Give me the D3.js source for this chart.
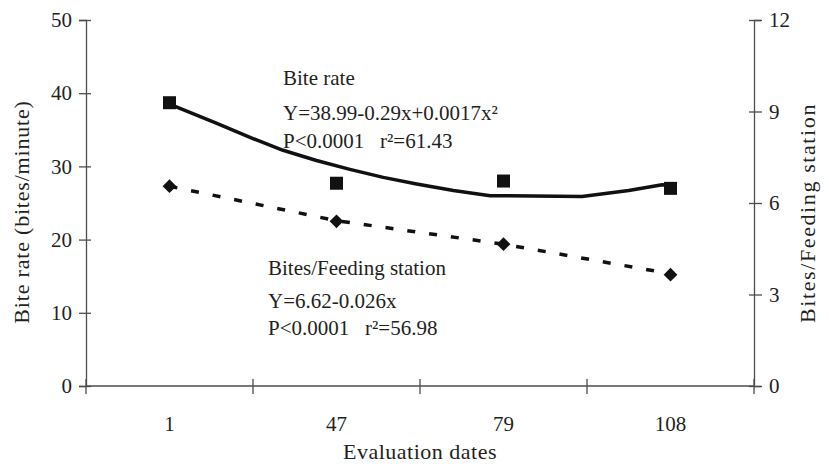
<!DOCTYPE html>
<html>
<head>
<meta charset="utf-8">
<script src="https://cdn.jsdelivr.net/npm/d3@7"></script>
<style>
  body { margin: 0; background: #fff; }
  text { font-family: "Liberation Serif", "DejaVu Serif", serif; fill: #231f20; }
</style>
</head>
<body>
<div id="chart"></div>
<script>
// categories (evaluation dates)
var dates = ["1", "47", "79", "108"];
// observed bite rate (bites/minute), left axis
var biteRate = [38.7, 27.7, 28.0, 27.0];
// observed bites per feeding station, right axis
var bitesStation = [6.55, 5.4, 4.65, 3.65];
// fitted bite rate curve: position (category index) and value
var biteFitPos = [0, 0.28, 0.5, 0.68, 0.88, 1.08, 1.28, 1.48, 1.7, 1.92, 2.47, 2.75, 2.95, 3];
var biteFitVal = [38.5, 35.9, 33.8, 32.2, 30.8, 29.6, 28.5, 27.6, 26.7, 26.0, 25.9, 26.7, 27.5, 27.4];
// fitted bites/feeding station line
var stationFit = [6.55, 5.42, 4.65, 3.68];
// tick labels
var leftTicks = [0, 10, 20, 30, 40, 50];
var rightTicks = [0, 3, 6, 9, 12];

var width = 829, height = 467;
var margin = { top: 20, left: 86, bottom: 81, right: 75 };
var x0 = margin.left, x1 = width - margin.right, y0 = height - margin.bottom, y1 = margin.top;

var svg = d3.select("#chart").append("svg")
    .attr("width", width)
    .attr("height", height);

var x = d3.scaleBand().domain(dates).range([x0, x1]).padding(0);
var xPos = d3.scaleLinear().domain([0, dates.length - 1])
    .range([x(dates[0]) + x.bandwidth() / 2, x(dates[dates.length - 1]) + x.bandwidth() / 2]);
var yL = d3.scaleLinear().domain([0, 50]).range([y0, y1]);
var yR = d3.scaleLinear().domain([0, 12]).range([y0, y1]);

var axisColor = "#4d4d4d";

// left axis
var gL = svg.append("g").attr("transform", "translate(" + x0 + ",0)")
    .call(d3.axisLeft(yL).tickValues(leftTicks).tickSize(7).tickPadding(9));
gL.select(".domain").attr("stroke", axisColor).attr("stroke-width", 1.3);
gL.selectAll(".tick line").attr("x2", 5).attr("x1", -7).attr("stroke", axisColor).attr("stroke-width", 1.3);
gL.selectAll(".tick text").attr("font-size", 21).attr("x", -14).attr("fill", "#231f20");

// right axis
var gR = svg.append("g").attr("transform", "translate(" + x1 + ",0)")
    .call(d3.axisRight(yR).tickValues(rightTicks).tickSize(7).tickPadding(9));
gR.select(".domain").attr("stroke", axisColor).attr("stroke-width", 1.3);
gR.selectAll(".tick line").attr("x1", -5).attr("x2", 8).attr("stroke", axisColor).attr("stroke-width", 1.3);
gR.selectAll(".tick text").attr("font-size", 21).attr("x", 15).attr("fill", "#231f20");

// bottom axis: boundaries get tick marks, labels at band centers
var bounds = dates.map(function (d) { return x(d); }).concat([x1]);
svg.append("line").attr("x1", x0).attr("x2", x1).attr("y1", y0).attr("y2", y0)
    .attr("stroke", axisColor).attr("stroke-width", 1.3);
svg.selectAll(".xtick").data(bounds).enter().append("line")
    .attr("class", "xtick")
    .attr("x1", function (d) { return d; }).attr("x2", function (d) { return d; })
    .attr("y1", y0 - 7).attr("y2", y0 + 8)
    .attr("stroke", axisColor).attr("stroke-width", 1.3);
svg.selectAll(".xlab").data(dates).enter().append("text")
    .attr("class", "xlab")
    .attr("x", function (d) { return x(d) + x.bandwidth() / 2; })
    .attr("y", y0 + 45)
    .attr("text-anchor", "middle")
    .attr("font-size", 21)
    .text(function (d) { return d; });

// axis titles
svg.append("text").attr("x", 420).attr("y", 459).attr("text-anchor", "middle")
    .attr("font-size", 22).attr("letter-spacing", 0.5).text("Evaluation dates");
svg.append("text").attr("transform", "translate(29,212) rotate(-90)").attr("text-anchor", "middle")
    .attr("font-size", 22).attr("letter-spacing", 0.8).text("Bite rate (bites/minute)");
svg.append("text").attr("transform", "translate(815,213) rotate(-90)").attr("text-anchor", "middle")
    .attr("font-size", 22).attr("letter-spacing", 1.6).text("Bites/Feeding station");

// fitted lines
var fitData = biteFitPos.map(function (p, i) { return [p, biteFitVal[i]]; });
svg.append("path").datum(fitData)
    .attr("fill", "none").attr("stroke", "#111").attr("stroke-width", 3.5)
    .attr("stroke-linejoin", "round")
    .attr("d", d3.line().x(function (d) { return xPos(d[0]); }).y(function (d) { return yL(d[1]); }));

svg.append("path").datum(stationFit)
    .attr("fill", "none").attr("stroke", "#111").attr("stroke-width", 3.5)
    .attr("stroke-dasharray", "8,14")
    .attr("d", d3.line().x(function (d, i) { return xPos(i); }).y(function (d) { return yR(d); }));

// markers
svg.selectAll(".sq").data(biteRate).enter().append("rect")
    .attr("class", "sq")
    .attr("x", function (d, i) { return xPos(i) - 6.5; })
    .attr("y", function (d) { return yL(d) - 6.5; })
    .attr("width", 13).attr("height", 13)
    .attr("fill", "#111");

var diamond = d3.symbol().type(d3.symbolDiamond2).size(120);
svg.selectAll(".dm").data(bitesStation).enter().append("path")
    .attr("class", "dm")
    .attr("transform", function (d, i) { return "translate(" + xPos(i) + "," + yR(d) + ")"; })
    .attr("d", diamond)
    .attr("fill", "#111");

// annotations
var ann1 = ["Bite rate", "Y=38.99-0.29x+0.0017x\u00b2", "P<0.0001\u00a0\u00a0\u00a0r\u00b2=61.43"];
var ann2 = ["Bites/Feeding station", "Y=6.62-0.026x", "P<0.0001\u00a0\u00a0\u00a0r\u00b2=56.98"];
var ann1Y = [85, 120, 148];
var ann2Y = [275, 308, 335];
svg.selectAll(".a1").data(ann1).enter().append("text")
    .attr("x", 283).attr("y", function (d, i) { return ann1Y[i]; })
    .attr("font-size", 21).text(function (d) { return d; });
svg.selectAll(".a2").data(ann2).enter().append("text")
    .attr("x", 268).attr("y", function (d, i) { return ann2Y[i]; })
    .attr("font-size", 21).text(function (d) { return d; });
</script>
</body>
</html>
